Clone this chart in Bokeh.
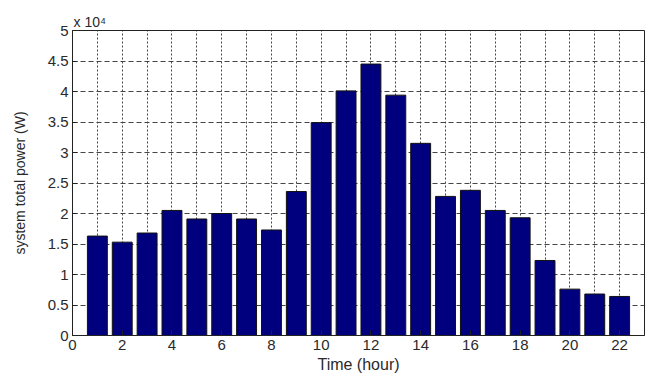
from bokeh.plotting import figure
from bokeh.models import Range1d, FixedTicker
from bokeh.embed import file_html
from bokeh.resources import INLINE

hours = list(range(1, 23))
power = [16300, 15300, 16800, 20500, 19100, 20000, 19100, 17300, 23600, 34900,
         40100, 44500, 39400, 31500, 22800, 23800, 20500, 19300, 12300, 7600,
         6800, 6400]
x_ticks = list(range(0, 23, 2))
y_ticks = [0, 5000, 10000, 15000, 20000, 25000, 30000, 35000, 40000, 45000, 50000]
y_tick_labels = ["0", "0.5", "1", "1.5", "2", "2.5", "3", "3.5", "4", "4.5", "5"]

FONT = "Liberation Sans"
TXT = "#2a2a2a"

p = figure(width=645, height=375, output_backend="svg", toolbar_location=None,
           x_range=Range1d(0, 23), y_range=Range1d(0, 50000),
           title="x 10\u2074",
           min_border_left=72, min_border_right=1, min_border_top=30, min_border_bottom=36)

p.vbar(x=hours, top=power, width=0.8, fill_color="#00007f", line_color="#111111", line_width=1)

p.outline_line_color = "#222222"
p.outline_line_width = 1

p.title.text_font = FONT
p.title.text_font_size = "14px"
p.title.text_font_style = "normal"
p.title.text_color = TXT
p.title.align = "left"
p.title.offset = 1
p.title.standoff = 1

p.xaxis.ticker = FixedTicker(ticks=x_ticks)
p.yaxis.ticker = FixedTicker(ticks=y_ticks)
p.yaxis.major_label_overrides = {t: l for t, l in zip(y_ticks, y_tick_labels)}

for ax in (p.xaxis[0], p.yaxis[0]):
    ax.major_tick_in = 5
    ax.major_tick_out = 0
    ax.minor_tick_in = 0
    ax.minor_tick_out = 0
    ax.axis_line_color = "#222222"
    ax.major_tick_line_color = "#222222"
    ax.major_label_text_font = FONT
    ax.major_label_text_font_size = "15px"
    ax.major_label_text_color = TXT
    ax.axis_label_text_font = FONT
    ax.axis_label_text_font_style = "normal"
    ax.axis_label_text_color = TXT
    ax.major_label_standoff = 4

p.xaxis.axis_label = "Time (hour)"
p.xaxis.axis_label_text_font_size = "16px"
p.xaxis.axis_label_standoff = 3
p.yaxis.axis_label = "system total power (W)"
p.yaxis.axis_label_text_font_size = "14px"
p.yaxis.axis_label_standoff = 17

p.xgrid.ticker = FixedTicker(ticks=hours)
p.xgrid.grid_line_color = "#444444"
p.xgrid.grid_line_dash = "2 2"
p.xgrid.grid_line_width = 1
p.ygrid.ticker = FixedTicker(ticks=y_ticks)
p.ygrid.grid_line_color = "#444444"
p.ygrid.grid_line_dash = "5 3"
p.ygrid.grid_line_width = 1

open("out.html", "w").write(file_html(p, INLINE))
